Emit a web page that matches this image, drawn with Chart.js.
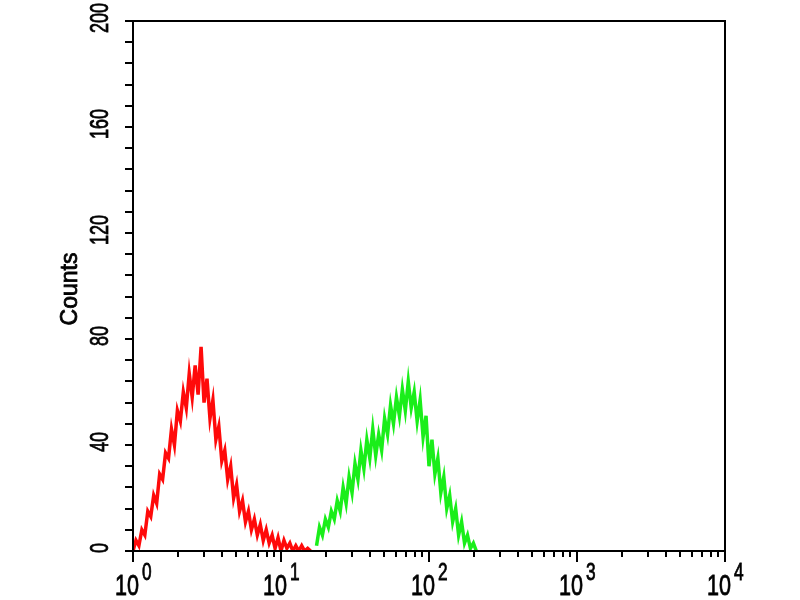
<!DOCTYPE html>
<html>
<head>
<meta charset="utf-8">
<script src="https://cdn.jsdelivr.net/npm/chart.js@4/dist/chart.umd.min.js"></script>
<style>
  body { margin: 0; background: #fff; }
  canvas { display: block; }
</style>
</head>
<body>
<canvas id="histo" width="800" height="600"></canvas>
<script>
// canaux (échelle log, pas de 0.02 décade)
const channelValues = [
    1.000, 1.047, 1.096, 1.148, 1.202, 1.259, 1.318, 1.380, 1.445, 1.514,
    1.585, 1.660, 1.738, 1.820, 1.905, 1.995, 2.089, 2.188, 2.291, 2.399,
    2.512, 2.630, 2.754, 2.884, 3.020, 3.162, 3.311, 3.467, 3.631, 3.802,
    3.981, 4.169, 4.365, 4.571, 4.786, 5.012, 5.248, 5.495, 5.754, 6.026,
    6.310, 6.607, 6.918, 7.244, 7.586, 7.943, 8.318, 8.710, 9.120, 9.550,
    10.00, 10.47, 10.96, 11.48, 12.02, 12.59, 13.18, 13.80, 14.45, 15.14,
    15.85, 16.60, 17.38, 18.20, 19.05, 19.95, 20.89, 21.88, 22.91, 23.99,
    25.12, 26.30, 27.54, 28.84, 30.20, 31.62, 33.11, 34.67, 36.31, 38.02,
    39.81, 41.69, 43.65, 45.71, 47.86, 50.12, 52.48, 54.95, 57.54, 60.26,
    63.10, 66.07, 69.18, 72.44, 75.86, 79.43, 83.18, 87.10, 91.20, 95.50,
    100.0, 104.7, 109.6, 114.8, 120.2, 125.9, 131.8, 138.0, 144.5, 151.4,
    158.5, 166.0, 173.8, 182.0, 190.5, 199.5, 208.9
];

// témoin (rouge), à partir du canal 0
const redCounts = [
    0, 4, 2, 8, 6, 15, 13, 21, 18, 29,
    27, 37, 35, 46, 40, 53, 49, 60, 54, 67,
    58, 70, 59, 77, 56, 65, 50, 57, 42, 47,
    34, 38, 27, 32, 20, 25, 15, 19, 11, 15,
    8, 12, 6, 10, 4, 8, 3, 6, 1, 5,
    0, 4, 1, 3, 0, 2, 0, 2, 0, 1,
    0
];

// échantillon marqué (vert), à partir du canal greenOffset
const greenOffset = 62;
const greenCounts = [
    2, 9, 6, 12, 9, 15, 12, 19, 15, 24,
    18, 28, 22, 33, 27, 38, 31, 42, 35, 46,
    36, 44, 38, 50, 44, 55, 48, 58, 51, 61,
    53, 64, 54, 60, 49, 57, 43, 51, 32, 42,
    29, 35, 22, 28, 16, 21, 11, 16, 6, 11,
    3, 6, 1, 3, 0
];

const yTickLabels = [0, 40, 80, 120, 160, 200];
const yMinorStep = 8;
const xDecades = [1, 10, 100, 1000, 10000];
const xExponents = ['0', '1', '2', '3', '4'];
const yTitle = 'Counts';

const redPoints = redCounts.map((y, i) => ({ x: channelValues[i], y: y }));
const greenPoints = greenCounts.map((y, i) => ({ x: channelValues[i + greenOffset], y: y }));

// petit contour pour épaissir le texte comme sur l'original
function drawText(ctx, text, x, y) {
    ctx.fillText(text, x, y);
    ctx.strokeText(text, x, y);
}

// cadre, graduations et libellés dessinés à partir des échelles
const axesPlugin = {
    id: 'axesPlugin',
    afterDraw(chart) {
        const ctx = chart.ctx;
        const area = chart.chartArea;
        const xs = chart.scales.x;
        const ys = chart.scales.y;

        ctx.save();
        ctx.strokeStyle = '#000';
        ctx.lineWidth = 2;
        ctx.strokeRect(area.left, area.top, area.right - area.left, area.bottom - area.top);

        // graduations Y
        for (let v = 0; v <= 200; v += yMinorStep) {
            const py = Math.round(ys.getPixelForValue(v));
            ctx.beginPath();
            ctx.moveTo(area.left, py);
            ctx.lineTo(area.left - 8, py);
            ctx.stroke();
        }

        // graduations X (log)
        xDecades.forEach((d, k) => {
            const px = Math.round(xs.getPixelForValue(d));
            ctx.beginPath();
            ctx.moveTo(px, area.bottom);
            ctx.lineTo(px, area.bottom + 11);
            ctx.stroke();
            if (k < xDecades.length - 1) {
                for (let m = 2; m <= 9; m++) {
                    const pm = Math.round(xs.getPixelForValue(d * m));
                    ctx.beginPath();
                    ctx.moveTo(pm, area.bottom);
                    ctx.lineTo(pm, area.bottom + 6);
                    ctx.stroke();
                }
            }
        });

        ctx.fillStyle = '#000';
        ctx.lineWidth = 0.8;

        // libellés Y tournés
        ctx.textAlign = 'center';
        ctx.textBaseline = 'middle';
        yTickLabels.forEach(v => {
            const py = ys.getPixelForValue(v);
            ctx.save();
            ctx.translate(101, py - 3);
            ctx.rotate(-Math.PI / 2);
            ctx.scale(0.72, 1);
            ctx.font = '25px "Liberation Sans", Arial, sans-serif';
            drawText(ctx, String(v), 0, 0);
            ctx.restore();
        });

        // titre Y
        ctx.save();
        ctx.translate(71, 289);
        ctx.rotate(-Math.PI / 2);
        ctx.font = '23px "Liberation Sans", Arial, sans-serif';
        drawText(ctx, yTitle, 0, 0);
        ctx.restore();

        // libellés X : 10 avec exposant
        ctx.textBaseline = 'alphabetic';
        xDecades.forEach((d, k) => {
            const px = xs.getPixelForValue(d);
            ctx.save();
            ctx.translate(px + 6, 595);
            ctx.scale(0.72, 1);
            ctx.font = '30px "Liberation Sans", Arial, sans-serif';
            ctx.textAlign = 'right';
            drawText(ctx, '10', 0, 0);
            ctx.font = '24px "Liberation Sans", Arial, sans-serif';
            ctx.textAlign = 'left';
            drawText(ctx, xExponents[k], 4, -15);
            ctx.restore();
        });

        ctx.restore();
    }
};

new Chart(document.getElementById('histo'), {
    type: 'line',
    data: {
        datasets: [
            {
                label: 'Contrôle',
                data: redPoints,
                borderColor: '#ff0a0a',
                borderWidth: 3.5,
                pointRadius: 0,
                tension: 0,
                fill: false
            },
            {
                label: 'Échantillon',
                data: greenPoints,
                borderColor: '#1aee1a',
                borderWidth: 3.5,
                pointRadius: 0,
                tension: 0,
                fill: false
            }
        ]
    },
    options: {
        responsive: false,
        animation: false,
        layout: {
            padding: { left: 133, right: 75, top: 21, bottom: 49 }
        },
        plugins: {
            legend: { display: false },
            tooltip: { enabled: false }
        },
        scales: {
            x: { type: 'logarithmic', min: 1, max: 10000, display: false },
            y: { type: 'linear', min: 0, max: 200, display: false }
        }
    },
    plugins: [axesPlugin]
});
</script>
</body>
</html>
